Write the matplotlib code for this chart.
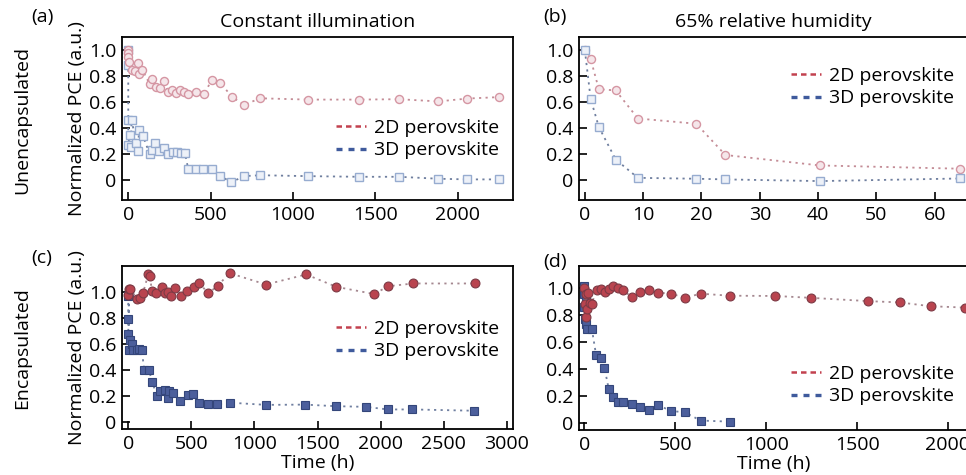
import numpy as np
import matplotlib
matplotlib.use("Agg")
import matplotlib.pyplot as plt
from matplotlib.lines import Line2D
from matplotlib.ticker import FuncFormatter

plt.rcParams['font.family'] = ['Open Sans', 'DejaVu Sans']
plt.rcParams['font.size'] = 14

# (a) unencapsulated, constant illumination
a_2d_t = [0, 0, 0, 4, 20, 40, 60, 65, 85, 130, 142, 166, 190, 218, 243, 267, 291, 316,
          340, 364, 409, 461, 506, 558, 631, 704, 802, 1090, 1400, 1645, 1883, 2060, 2250]
a_2d_pce = [1.0, 0.975, 0.95, 0.91, 0.85, 0.84, 0.90, 0.82, 0.85, 0.74, 0.78, 0.72, 0.71, 0.76,
            0.68, 0.69, 0.67, 0.69, 0.68, 0.66, 0.68, 0.66, 0.77, 0.75, 0.64, 0.58, 0.63,
            0.62, 0.62, 0.623, 0.606, 0.628, 0.639]
a_3d_t = [0, 0, 0, 8, 20, 0, 16, 48, 60, 65, 89, 130, 146, 162, 186, 218, 243, 271, 296,
          320, 344, 364, 409, 457, 506, 559, 627, 704, 802, 1090, 1400, 1645, 1883, 2060, 2250]
a_3d_pce = [1.0, 0.885, 0.465, 0.35, 0.465, 0.275, 0.26, 0.29, 0.225, 0.39, 0.34, 0.205,
            0.235, 0.29, 0.225, 0.25, 0.20, 0.215, 0.215, 0.21, 0.21, 0.09, 0.09, 0.09,
            0.09, 0.033, -0.013, 0.033, 0.04, 0.033, 0.028, 0.028, 0.013, 0.008, 0.008]

# (b) unencapsulated, 65% relative humidity
b_t = [0, 1.0, 2.4, 5.3, 9.1, 19.1, 24.1, 40.3, 64.3]
b_2d_pce = [1.0, 0.93, 0.70, 0.69, 0.475, 0.435, 0.195, 0.115, 0.09]
b_3d_pce = [1.0, 0.625, 0.41, 0.16, 0.02, 0.013, 0.008, -0.005, 0.015]

# (c) encapsulated, constant illumination
c_2d_t = [0, 5, 16, 69, 95, 116, 159, 169, 190, 222, 265, 291, 317, 339, 370, 418, 466,
          519, 561, 635, 709, 804, 1092, 1410, 1650, 1950, 2060, 2260, 2750]
c_2d_pce = [0.975, 1.025, 1.02, 0.95, 0.955, 0.99, 1.14, 1.12, 1.005, 0.99, 1.04, 0.99,
            1.0, 0.967, 1.03, 0.97, 1.01, 1.04, 1.07, 0.99, 1.05, 1.145, 1.058, 1.135,
            1.04, 0.985, 1.045, 1.066, 1.066]
c_3d_t = [0, 5, 0, 0, 10, 26, 5, 37, 69, 85, 106, 127, 164, 190, 228, 249, 291, 312, 323,
          355, 413, 471, 513, 561, 635, 704, 804, 1092, 1402, 1643, 1882, 2057, 2253, 2743]
c_3d_pce = [0.967, 1.0, 0.79, 0.68, 0.63, 0.60, 0.557, 0.557, 0.557, 0.567, 0.557, 0.40,
            0.40, 0.31, 0.20, 0.24, 0.248, 0.19, 0.24, 0.223, 0.165, 0.208, 0.215, 0.152,
            0.14, 0.14, 0.152, 0.135, 0.137, 0.125, 0.12, 0.10, 0.10, 0.09]

# (d) encapsulated, 65% relative humidity
d_2d_t = [0, 9, 5, 31, 9, 17, 40, 20, 68, 90, 114, 138, 157, 183, 212, 262, 308, 354,
          404, 478, 552, 640, 799, 1050, 1249, 1559, 1736, 1904, 2094]
d_2d_pce = [1.0, 0.955, 0.877, 0.887, 0.78, 0.845, 0.88, 0.96, 0.98, 0.988, 0.968, 0.993,
            1.012, 0.998, 0.98, 0.93, 0.97, 0.98, 0.963, 0.955, 0.924, 0.955, 0.94, 0.938,
            0.924, 0.90, 0.89, 0.862, 0.852]
d_3d_t = [0, 0, 9, 0, 5, 9, 13, 42, 65, 90, 111, 135, 157, 183, 212, 262, 308, 354, 404,
          478, 552, 640, 799]
d_3d_pce = [1.01, 0.95, 0.93, 0.857, 0.77, 0.727, 0.69, 0.69, 0.50, 0.48, 0.406, 0.246,
            0.192, 0.15, 0.155, 0.138, 0.118, 0.094, 0.13, 0.086, 0.076, 0.015, 0.007]

series_labels = ['2D perovskite', '3D perovskite']

W, H = 966, 475
fig = plt.figure(figsize=(W / 100, H / 100), dpi=100)


def box(l, t, r, b):
    return [l / W, 1 - b / H, (r - l) / W, (b - t) / H]


ax_a = fig.add_axes(box(122, 37, 513, 200))
ax_b = fig.add_axes(box(579, 37, 968, 200))
ax_c = fig.add_axes(box(122, 266, 513, 429))
ax_d = fig.add_axes(box(579, 266, 968, 430))

open_2d = dict(marker='o', ms=5.8, mfc='#f5e6ea', mec='#d596a3', mew=1.0,
               color='#c48c96', ls=(0, (1.2, 2.4)), lw=1.3)
open_3d = dict(marker='s', ms=5.6, mfc='#edf1f8', mec='#97acd0', mew=1.0,
               color='#6f7f9f', ls=(0, (1.2, 2.4)), lw=1.3)
fill_2d = dict(marker='o', ms=6.4, mfc='#b9444f', mec='#7d3a45', mew=0.8,
               color='#a58890', ls=(0, (1.2, 2.4)), lw=1.3)
fill_3d = dict(marker='s', ms=6.2, mfc='#4c5f9c', mec='#34467a', mew=0.8,
               color='#6f7fa0', ls=(0, (1.2, 2.4)), lw=1.3)


def order(t, v):
    idx = np.argsort(np.asarray(t, float), kind='stable')
    return np.asarray(t, float)[idx], np.asarray(v, float)[idx]


ax_a.plot(*order(a_3d_t, a_3d_pce), **open_3d)
ax_a.plot(*order(a_2d_t, a_2d_pce), **open_2d)
ax_b.plot(b_t, b_2d_pce, **open_2d)
ax_b.plot(b_t, b_3d_pce, **open_3d)
ax_c.plot(*order(c_3d_t, c_3d_pce), **fill_3d)
ax_c.plot(*order(c_2d_t, c_2d_pce), **fill_2d)
ax_d.plot(*order(d_3d_t, d_3d_pce), **fill_3d)
ax_d.plot(*order(d_2d_t, d_2d_pce), **fill_2d)

ax_a.set_xlim(-38, 2337)
ax_a.set_ylim(-0.15, 1.10)
ax_a.set_xticks([0, 500, 1000, 1500, 2000])
ax_b.set_xlim(-1.0, 65.7)
ax_b.set_ylim(-0.15, 1.10)
ax_b.set_xticks([0, 10, 20, 30, 40, 50, 60])
ax_c.set_xlim(-50, 3050)
ax_c.set_ylim(-0.05, 1.20)
ax_c.set_xticks([0, 500, 1000, 1500, 2000, 2500, 3000])
ax_d.set_xlim(-29, 2110)
ax_d.set_ylim(-0.055, 1.16)
ax_d.set_xticks([0, 500, 1000, 1500, 2000])

yfmt = FuncFormatter(lambda v, p: '0' if abs(v) < 1e-9 else f'{v:.1f}')
for ax in (ax_a, ax_b, ax_c, ax_d):
    ax.set_yticks([0, 0.2, 0.4, 0.6, 0.8, 1.0])
    ax.yaxis.set_major_formatter(yfmt)
    ax.tick_params(direction='in', length=5.5, width=1.2, labelsize=14, pad=4)
    for s in ax.spines.values():
        s.set_linewidth(1.3)

handles = [Line2D([], [], color='#c2414f', ls=(0, (2.2, 1.6)), lw=1.8),
           Line2D([], [], color='#3f5a9c', ls=(0, (1.8, 1.8)), lw=2.4)]
for ax, yc in ((ax_a, 0.374), (ax_b, 0.693), (ax_c, 0.546), (ax_d, 0.274)):
    ax.legend(handles, series_labels, loc='center right', bbox_to_anchor=(1.0, yc),
              frameon=False, fontsize=14, handlelength=1.5, handletextpad=0.45,
              labelspacing=0.25, borderaxespad=0.3)

ax_a.set_title('Constant illumination', fontsize=14, pad=7)
ax_b.set_title('65% relative humidity', fontsize=14, pad=7)
ax_a.set_ylabel('Normalized PCE (a.u.)', fontsize=14, labelpad=2)
ax_c.set_ylabel('Normalized PCE (a.u.)', fontsize=14, labelpad=2)
ax_c.set_xlabel('Time (h)', fontsize=14, labelpad=1)
ax_d.set_xlabel('Time (h)', fontsize=14, labelpad=1)

fig.text(22 / W, 1 - 120 / H, 'Unencapsulated', rotation=90, ha='center', va='center', fontsize=14)
fig.text(22 / W, 1 - 348 / H, 'Encapsulated', rotation=90, ha='center', va='center', fontsize=14)

for lbl, x, y in (('(a)', 42, 17), ('(b)', 555, 17), ('(c)', 42, 258), ('(d)', 555, 262)):
    fig.text(x / W, 1 - y / H, lbl, ha='center', va='center', fontsize=14)

fig.savefig('out.png', dpi=100)
